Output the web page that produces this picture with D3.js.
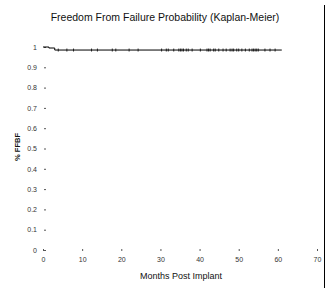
<!DOCTYPE html>
<html>
<head>
<meta charset="utf-8">
<script src="https://cdn.jsdelivr.net/npm/d3@7"></script>
<style>
  body { margin: 0; background: #fff; }
  svg { display: block; font-family: Arial, "Liberation Sans", sans-serif; }
</style>
</head>
<body>
<svg id="chart" width="329" height="288"></svg>
<script>
// step points of the KM curve (months, survival)
const stepTimes = [0, 1.5, 3, 61];
const stepSurvival = [1, 0.995, 0.985, 0.985];
// censored observations (months)
const censorTimes = [3.9, 6.1, 7.8, 12.4, 13.9, 17.7, 18.6, 22.0, 24.3, 30.3, 31.5, 32.0, 33.4,
  34.7, 35.1, 35.5, 35.9, 36.6, 37.1, 38.1, 40.2, 41.9, 42.3, 42.7, 43.6, 44.0, 44.9, 46.0,
  46.8, 47.8, 48.3, 48.7, 49.5, 50.0, 50.8, 51.7, 52.7, 53.4, 53.8, 54.2, 54.6, 55.0, 56.7,
  58.0, 59.3];
const xTicks = [0, 10, 20, 30, 40, 50, 60, 70];
const yTicks = [0, 0.1, 0.2, 0.3, 0.4, 0.5, 0.6, 0.7, 0.8, 0.9, 1];

const svg = d3.select("#chart");
const x = d3.scaleLinear().domain([0, 70]).range([43, 317]);
const y = d3.scaleLinear().domain([0, 1]).range([250, 47]);

svg.append("text")
    .attr("x", 165).attr("y", 21)
    .attr("text-anchor", "middle")
    .attr("font-size", 10.5)
    .attr("fill", "#111")
    .text("Freedom From Failure Probability (Kaplan-Meier)");

// y axis: no domain line, just small ticks and labels
const yAxis = svg.append("g")
    .attr("transform", "translate(46,0)")
    .call(d3.axisLeft(y).tickValues(yTicks).tickSize(2).tickPadding(7)
        .tickFormat(d => d === 0 || d === 1 ? d3.format("d")(d) : d3.format(".1f")(d)));
yAxis.select(".domain").remove();
yAxis.selectAll("text").attr("font-size", 7).attr("fill", "#333");
yAxis.selectAll("line").attr("stroke", "#555");

const xAxis = svg.append("g")
    .attr("transform", "translate(0,249)")
    .call(d3.axisBottom(x).tickValues(xTicks).tickSize(2).tickPadding(6));
xAxis.select(".domain").remove();
xAxis.selectAll("text").attr("font-size", 7).attr("fill", "#333");
xAxis.selectAll("line").attr("stroke", "#555");

svg.append("text")
    .attr("transform", "translate(20,147) rotate(-90)")
    .attr("text-anchor", "middle")
    .attr("font-size", 7.5)
    .attr("font-weight", "bold")
    .attr("fill", "#111")
    .text("% FFBF");

svg.append("text")
    .attr("x", 181).attr("y", 279)
    .attr("text-anchor", "middle")
    .attr("font-size", 9)
    .attr("fill", "#111")
    .text("Months Post Implant");

const kmData = stepTimes.map((t, i) => ({ t: t, s: stepSurvival[i] }));
const line = d3.line()
    .x(d => x(d.t))
    .y(d => y(d.s))
    .curve(d3.curveStepAfter);
svg.append("path")
    .datum(kmData)
    .attr("d", line)
    .attr("fill", "none")
    .attr("stroke", "#000")
    .attr("stroke-width", 1);

// survival at a given time, for placing censor marks
const survAt = t => {
    let s = 1;
    stepTimes.forEach((st, i) => { if (st <= t) s = stepSurvival[i]; });
    return s;
};
svg.selectAll(".censor")
    .data(censorTimes)
    .enter()
    .append("line")
    .attr("class", "censor")
    .attr("x1", d => x(d)).attr("x2", d => x(d))
    .attr("y1", d => y(survAt(d)) - 1.5)
    .attr("y2", d => y(survAt(d)) + 1.5)
    .attr("stroke", "#000")
    .attr("stroke-width", 0.8);

// frame line at right edge
svg.append("line")
    .attr("x1", 324.5).attr("x2", 324.5)
    .attr("y1", 5).attr("y2", 288)
    .attr("stroke", "#000")
    .attr("stroke-width", 1);
</script>
</body>
</html>
